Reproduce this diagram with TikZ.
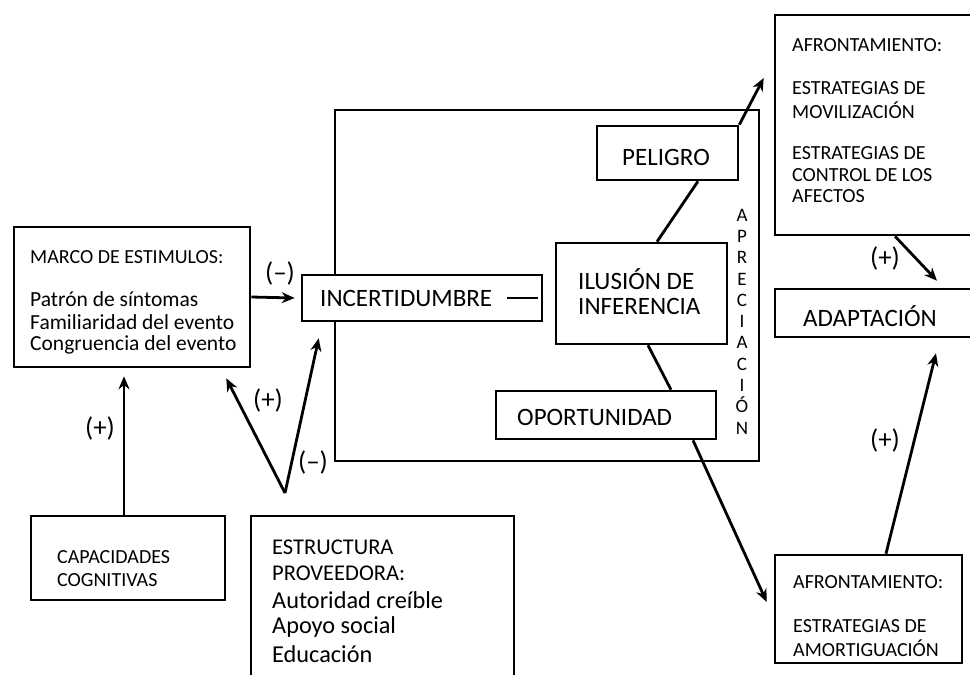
\documentclass[tikz,border=0pt]{standalone}
\usepackage{fontspec}
\setmainfont{Carlito}
\usetikzlibrary{arrows.meta}
\begin{document}
\begin{tikzpicture}[x=1pt,y=-1pt,
  box/.style={draw, line width=2.6pt, rectangle, inner sep=0pt, fill=white},
  conn/.style={line width=2.8pt},
  arr/.style={conn, -{Stealth[length=13pt,width=11pt]}},
  lbl/.style={inner sep=0pt, font=\fontsize{27}{30}\selectfont},
  txt/.style={anchor=west, inner sep=0pt},
  fa/.style={font=\fontsize{20}{22}\selectfont},
  fb/.style={font=\fontsize{20}{22}\selectfont},
  fm/.style={font=\fontsize{21.5}{24}\selectfont},
  fc/.style={font=\fontsize{25}{27}\selectfont},
  fe/.style={font=\fontsize{22.5}{24}\selectfont},
  fd/.style={font=\fontsize{24.3}{26}\selectfont}]
\clip (0,0) rectangle (970,675);
\fill[white] (0,0) rectangle (970,675);
% boxes
\node[box, minimum width=424pt, minimum height=351pt] (apre) at (547,285.5) {};
\node[box, minimum width=236pt, minimum height=140pt] (marco) at (132,297) {};
\node[box, minimum width=240pt, minimum height=46pt] (incert) at (422,298) {};
\node[box, minimum width=171pt, minimum height=101pt] (ilusion) at (641.5,293.5) {};
\node[box, minimum width=141pt, minimum height=54pt] (peligro) at (667.5,153) {};
\node[box, minimum width=220pt, minimum height=48pt] (oport) at (606,415) {};
\node[box, minimum width=215pt, minimum height=220pt] (afr1) at (882.5,125) {};
\node[box, minimum width=215pt, minimum height=48pt] (adapt) at (882.5,313) {};
\node[box, minimum width=187pt, minimum height=108pt] (afr2) at (868.5,609) {};
\node[box, minimum width=194pt, minimum height=84pt] (capac) at (128,558) {};
\node[box, minimum width=263pt, minimum height=184pt] (estruct) at (382.5,608) {};
% texts
\node[txt, fa] (m1) at (30,257) {MARCO DE ESTIMULOS:};
\node[txt, fm] (m2) at (30,299) {Patrón de síntomas};
\node[txt, fm] (m3) at (30,322) {Familiaridad del evento};
\node[txt, fm] (m4) at (30,345) {Congruencia del evento};
\node[txt, fb] (c1) at (57,557) {CAPACIDADES};
\node[txt, fb] (c2) at (57,580) {COGNITIVAS};
\node[txt, fe] (e1) at (272,547) {ESTRUCTURA};
\node[txt, fe] (e2) at (272,573) {PROVEEDORA:};
\node[txt, fd] (e3) at (272,600) {Autoridad creíble};
\node[txt, fd] (e4) at (272,627) {Apoyo social};
\node[txt, fd] (e5) at (272,654) {Educación};
\node[txt, fc] (t1) at (320,298) {INCERTIDUMBRE};
\node[txt, fc] (t2) at (622,157) {PELIGRO};
\node[txt, fc] (t3) at (578,279) {ILUSIÓN DE};
\node[txt, fc] (t4) at (578,306) {INFERENCIA};
\node[txt, fc] (t5) at (517,417) {OPORTUNIDAD};
\node[txt, fc] (t6) at (803,316) {ADAPTACIÓN};
\node[txt, fb] (a1) at (792,45) {AFRONTAMIENTO:};
\node[txt, fb] (a2) at (792,88) {ESTRATEGIAS DE};
\node[txt, fb] (a3) at (792,110) {MOVILIZACIÓN};
\node[txt, fb] (a4) at (792,153) {ESTRATEGIAS DE};
\node[txt, fb] (a5) at (792,175) {CONTROL DE LOS};
\node[txt, fb] (a6) at (792,196) {AFECTOS};
\node[txt, fb] (b1) at (793,582) {AFRONTAMIENTO:};
\node[txt, fb] (b2) at (793,626) {ESTRATEGIAS DE};
\node[txt, fb] (b3) at (793,648) {AMORTIGUACIÓN};
\node[inner sep=0pt, align=center, font=\fontsize{19}{21.3}\selectfont] (apretxt) at (742,321.5)
  {A\\P\\R\\E\\C\\I\\A\\C\\I\\Ó\\N};
% labels
\node[lbl] (l1) at (280,273) {(–)};
\node[lbl] (l2) at (100,428) {(+)};
\node[lbl] (l3) at (268,400) {(+)};
\node[lbl] (l4) at (313,462) {(–)};
\node[lbl] (l5) at (885,258) {(+)};
\node[lbl] (l6) at (885,440) {(+)};
% connectors
\coordinate (v) at (285,493);
\draw[arr] (marco.east) -- ([xshift=-6pt]incert.west);
\draw[arr] ([xshift=-4pt]capac.north) -- ([xshift=-8pt,yshift=-8pt]marco.south);
\draw[arr] (v) -- ([xshift=-25pt,yshift=-10pt]marco.south east);
\draw[arr] (v) -- ([xshift=18pt,yshift=-16pt]incert.south west);
\draw[conn] ([xshift=-36pt]incert.east) -- ([xshift=-5pt]incert.east);
\draw[conn] ([xshift=30.5pt]peligro.south) -- ([xshift=15.5pt]ilusion.north);
\draw[conn] ([xshift=6.5pt]ilusion.south) -- ([xshift=65pt]oport.north);
\draw[arr] (peligro.north east) -- ([xshift=-10pt,yshift=47pt]afr1.west);
\draw[arr] ([xshift=87pt]oport.south) -- ([xshift=-7pt,yshift=7pt]afr2.west);
\draw[arr] ([xshift=12.5pt]afr1.south) -- ([xshift=54.5pt,yshift=7pt]adapt.north);
\draw[arr] ([xshift=17.5pt]afr2.north) -- ([xshift=53.5pt,yshift=-15pt]adapt.south);
\end{tikzpicture}
\end{document}
